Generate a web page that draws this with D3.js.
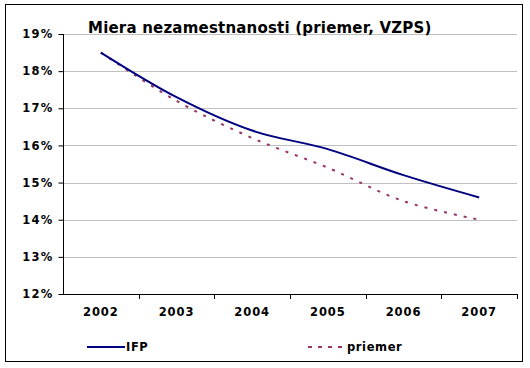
<!DOCTYPE html>
<html>
<head>
<meta charset="utf-8">
<script src="https://cdn.jsdelivr.net/npm/d3@7"></script>
<style>
  body { margin: 0; background: #fff; }
  svg { display: block; }
</style>
</head>
<body>
<svg id="chart"></svg>
<script>
// data
const years = ['2002', '2003', '2004', '2005', '2006', '2007'];
const ifp = [18.5, 17.3, 16.4, 15.9, 15.2, 14.6];
const priemer = [18.5, 17.2, 16.2, 15.4, 14.5, 14.0];
const yTicks = [12, 13, 14, 15, 16, 17, 18, 19];

const width = 530;
const height = 368;
const font = 'Verdana, "DejaVu Sans", sans-serif';

const svg = d3.select('#chart')
    .attr('width', width)
    .attr('height', height);

// outer frame
svg.append('rect')
    .attr('x', 5.5).attr('y', 4.5)
    .attr('width', 517).attr('height', 357)
    .attr('fill', '#fff')
    .attr('stroke', '#000')
    .attr('stroke-width', 1);

const plot = { left: 63, right: 517, top: 34, bottom: 294 };

const x = d3.scaleBand()
    .domain(years)
    .range([plot.left, plot.right]);

const y = d3.scaleLinear()
    .domain([12, 19])
    .range([plot.bottom, plot.top]);

// gridlines
svg.append('g')
    .selectAll('line')
    .data(yTicks.filter(d => d > 12))
    .enter().append('line')
    .attr('x1', plot.left)
    .attr('x2', plot.right)
    .attr('y1', d => Math.round(y(d)) + 0.5)
    .attr('y2', d => Math.round(y(d)) + 0.5)
    .attr('stroke', '#c0c0c0');

// y axis
const yAxis = svg.append('g')
    .attr('transform', `translate(${plot.left + 0.5},0)`)
    .call(d3.axisLeft(y).tickValues(yTicks).tickSize(5).tickFormat(d => d + '%'));
yAxis.selectAll('text')
    .attr('font-family', font)
    .attr('font-size', 11.5)
    .attr('font-weight', 'bold')
    .attr('letter-spacing', 1.2)
    .attr('fill', '#000')
    .attr('x', -10);
yAxis.select('.domain').attr('stroke', '#000').attr('d', `M0,${plot.top}V${plot.bottom}`);

// x axis
const xAxis = svg.append('g')
    .attr('transform', `translate(0,${plot.bottom + 0.5})`)
    .call(d3.axisBottom(x).tickSize(0));
xAxis.select('.domain').attr('stroke', '#000').attr('d', `M${plot.left},0H${plot.right}`);
xAxis.selectAll('text')
    .attr('font-family', font)
    .attr('font-size', 11.5)
    .attr('font-weight', 'bold')
    .attr('letter-spacing', 0.9)
    .attr('fill', '#000')
    .attr('y', 13);

// category separators on the x axis
svg.append('g')
    .selectAll('line')
    .data(years.slice(1).concat(['end']))
    .enter().append('line')
    .attr('x1', (d, i) => Math.round(plot.left + x.step() * (i + 1)) + 0.5)
    .attr('x2', (d, i) => Math.round(plot.left + x.step() * (i + 1)) + 0.5)
    .attr('y1', plot.bottom)
    .attr('y2', plot.bottom + 5)
    .attr('stroke', '#000');

const line = d3.line()
    .x((d, i) => x(years[i]) + x.bandwidth() / 2)
    .y(d => y(d))
    .curve(d3.curveCatmullRom.alpha(0.5));

svg.append('path')
    .datum(priemer)
    .attr('d', line)
    .attr('fill', 'none')
    .attr('stroke', '#993366')
    .attr('stroke-width', 2)
    .attr('stroke-dasharray', '3,7');

svg.append('path')
    .datum(ifp)
    .attr('d', line)
    .attr('fill', 'none')
    .attr('stroke', '#000080')
    .attr('stroke-width', 2);

// title
svg.append('text')
    .attr('x', 88)
    .attr('y', 33)
    .attr('font-family', font)
    .attr('font-size', 15)
    .attr('font-weight', 'bold')
    .attr('letter-spacing', 0.2)
    .text('Miera nezamestnanosti (priemer, VZPS)');

// legend
const legendItems = [
    { name: 'IFP', color: '#000080', dash: null, x: 87 },
    { name: 'priemer', color: '#993366', dash: '4,6', x: 308 }
];
const legend = svg.append('g').attr('class', 'legend');
legendItems.forEach(item => {
    legend.append('line')
        .attr('x1', item.x).attr('x2', item.x + 38)
        .attr('y1', 347).attr('y2', 347)
        .attr('stroke', item.color)
        .attr('stroke-width', 2)
        .attr('stroke-dasharray', item.dash);
    legend.append('text')
        .attr('x', item.x + 39)
        .attr('y', 351)
        .attr('font-family', font)
        .attr('font-size', 11.5)
        .attr('font-weight', 'bold')
        .attr('letter-spacing', 0.6)
        .text(item.name);
});
</script>
</body>
</html>
